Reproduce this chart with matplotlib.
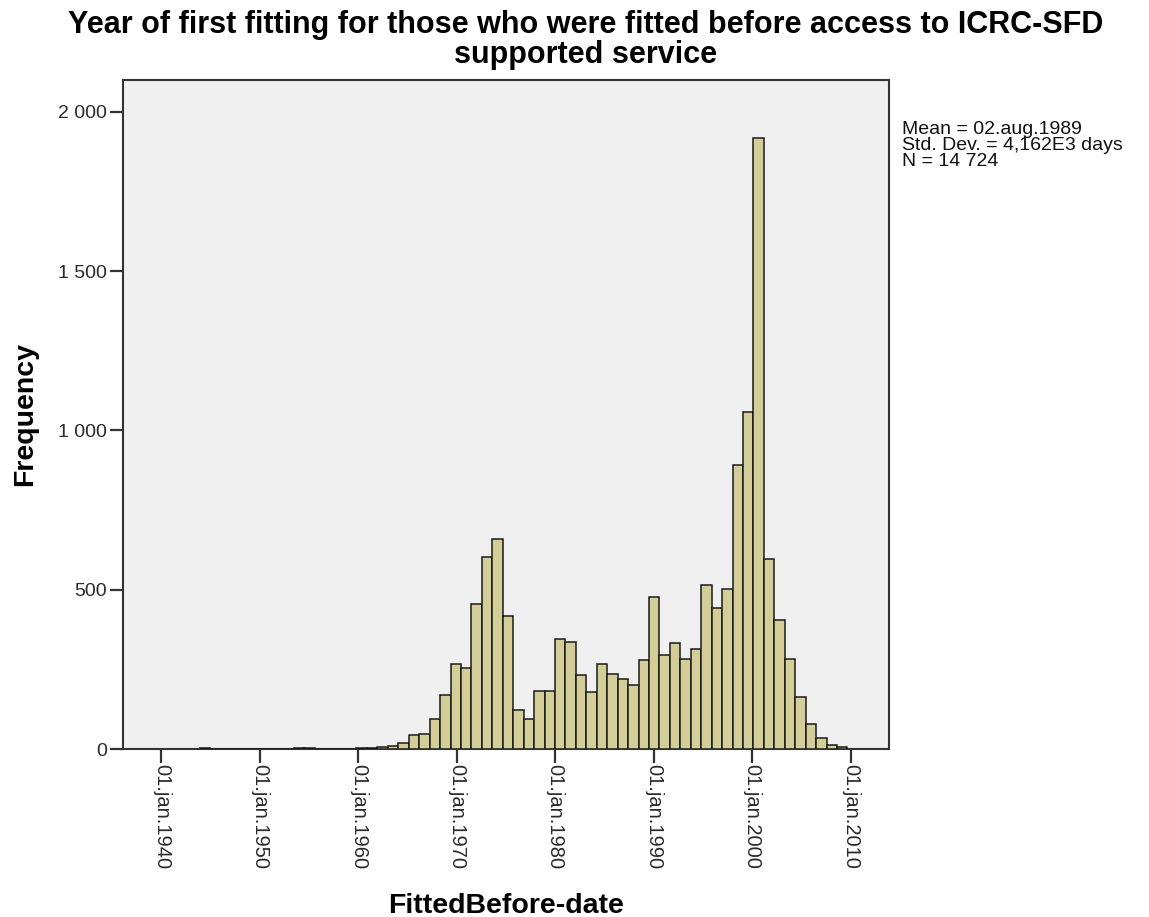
import matplotlib
matplotlib.use("Agg")
import matplotlib.pyplot as plt
import numpy as np

plt.rcParams['font.family'] = ['Liberation Sans', 'DejaVu Sans']

# ---- data ----
bin_origin = 1943.9          # start (in years) of first bin shown
bin_width = 1.061            # width of one histogram bin in years
counts = [4, 0, 0, 0, 0, 0, 0, 1, 1, 3, 2, 1, 1, 1, 0, 3, 3, 5,
          9, 20, 43, 46, 95, 170, 268, 254, 455, 604, 658, 418,
          122, 95, 182, 182, 345, 337, 233, 179, 266, 235, 221, 200,
          279, 476, 296, 334, 284, 313, 516, 444, 502, 890, 1057, 1918,
          597, 405, 284, 164, 78, 34, 12, 6]
tick_years = [1940, 1950, 1960, 1970, 1980, 1990, 2000, 2010]
tick_labels = ["01.jan.%d" % y for y in tick_years]
y_ticks = [0, 500, 1000, 1500, 2000]
y_tick_labels = ["0", "500", "1 000", "1 500", "2 000"]
title = "Year of first fitting for those who were fitted before access to ICRC-SFD\nsupported service"
stats = "Mean = 02.aug.1989\nStd. Dev. = 4,162E3 days\nN = 14 724"

# ---- figure ----
fig = plt.figure(figsize=(11.49, 9.17), dpi=100)
ax = fig.add_axes([123/1149, 1-749/917, (889-123)/1149, (749-80)/917])
ax.set_facecolor('#F0F0F0')

starts = bin_origin + bin_width*np.arange(len(counts))
ax.bar(starts, counts, width=bin_width, align='edge', color='#D3CE97',
       edgecolor='#1a1a1a', linewidth=1.1, zorder=3)

ax.set_xlim(1936.1, 2013.9)
ax.set_ylim(0, 2100)

ax.set_xticks(tick_years)
ax.set_xticklabels(tick_labels, rotation=-90, fontsize=14.5, color='#2a2a2a')
ax.set_yticks(y_ticks)
ax.set_yticklabels(y_tick_labels, fontsize=14, color='#2a2a2a')
ax.tick_params(axis='x', direction='out', length=10, width=1.6, color='#333333', pad=1)
ax.tick_params(axis='y', direction='out', length=9.5, width=1.6, color='#333333', pad=2)

for s in ax.spines.values():
    s.set_color('#333333')
    s.set_linewidth(1.5)

ax.set_xlabel("FittedBefore-date", fontsize=20.5, fontweight='bold', va='center')
ax.xaxis.set_label_coords(0.5, (749-906)/669)
ax.set_ylabel("Frequency", fontsize=20.5, fontweight='bold', va='center')
ax.yaxis.set_label_coords((25-123)/766, 0.5)

fig.text(586/1149, 1-40/917, title, ha='center', va='center', fontsize=22,
         fontweight='bold', linespacing=0.98)
fig.text(902/1149, 1-121/917, stats, ha='left', va='top', fontsize=14,
         linespacing=0.92, color='#111111')

fig.savefig("out.png", dpi=100)
